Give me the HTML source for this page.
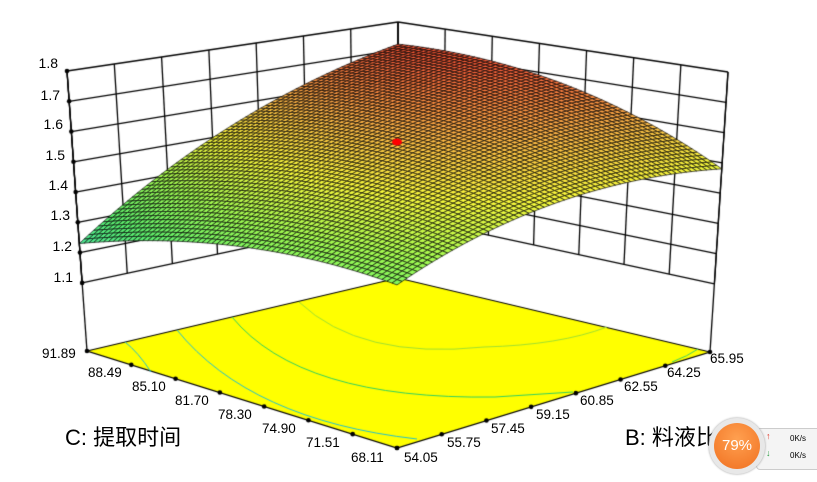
<!DOCTYPE html>
<html><head><meta charset="utf-8"><style>
html,body{margin:0;padding:0;background:#fff;}
#w{position:relative;width:817px;height:482px;overflow:hidden;font-family:"Liberation Sans","Noto Sans CJK SC",sans-serif;}
canvas{position:absolute;left:0;top:0;}
.t{position:absolute;font-size:13.5px;color:#000;white-space:nowrap;line-height:1;}
.z{position:absolute;font-size:14px;color:#000;line-height:1;text-align:right;width:30px;}
.big{position:absolute;font-size:22px;color:#000;white-space:nowrap;line-height:1;}
</style></head><body><div id="w">
<canvas id="c" width="817" height="482"></canvas>
<div class="z" style="left:28px;top:56px">1.8</div>
<div class="z" style="left:30px;top:88px">1.7</div>
<div class="z" style="left:33px;top:117px">1.6</div>
<div class="z" style="left:35px;top:148px">1.5</div>
<div class="z" style="left:38px;top:178px">1.4</div>
<div class="z" style="left:40px;top:208px">1.3</div>
<div class="z" style="left:42px;top:239px">1.2</div>
<div class="z" style="left:43px;top:270px">1.1</div>
<div class="t" style="left:42px;top:347px">91.89</div>
<div class="t" style="left:88px;top:366px">88.49</div>
<div class="t" style="left:132px;top:380px">85.10</div>
<div class="t" style="left:175px;top:394px">81.70</div>
<div class="t" style="left:218px;top:408px">78.30</div>
<div class="t" style="left:262px;top:422px">74.90</div>
<div class="t" style="left:306px;top:436px">71.51</div>
<div class="t" style="left:351px;top:451px">68.11</div>
<div class="t" style="left:404px;top:451px">54.05</div>
<div class="t" style="left:447px;top:436px">55.75</div>
<div class="t" style="left:491px;top:422px">57.45</div>
<div class="t" style="left:536px;top:408px">59.15</div>
<div class="t" style="left:580px;top:394px">60.85</div>
<div class="t" style="left:624px;top:380px">62.55</div>
<div class="t" style="left:667px;top:366px">64.25</div>
<div class="t" style="left:710px;top:352px">65.95</div>
<div class="big" style="left:65px;top:427px">C: 提取时间</div>
<div class="big" style="left:625px;top:427px">B: 料液比</div>
<div style="position:absolute;left:756px;top:428px;width:70px;height:40px;background:#f4f4f4;border:1px solid #ccc;border-radius:4px;"></div>
<div style="position:absolute;left:766px;top:431px;font-size:9px;color:#e03020">&#8593;</div>
<div style="position:absolute;left:766px;top:448px;font-size:9px;color:#2a9a40">&#8595;</div>
<div style="position:absolute;left:790px;top:434px;font-size:8px;color:#000;font-family:'Liberation Sans',sans-serif">0K/s</div>
<div style="position:absolute;left:790px;top:451px;font-size:8px;color:#000;font-family:'Liberation Sans',sans-serif">0K/s</div>
<div style="position:absolute;left:709px;top:418px;width:56px;height:56px;border-radius:50%;background:#e8e8e8;box-shadow:0 0 2px #999;"></div>
<div style="position:absolute;left:714px;top:423px;width:46px;height:46px;border-radius:50%;background:radial-gradient(circle at 50% 35%,#ffa050,#f07020);color:#fff;font-size:15px;line-height:46px;text-align:center;font-family:'Liberation Sans',sans-serif">79%</div>
</div>
<script>
const c=document.getElementById('c').getContext('2d');
const TOP={b:[398,22],l:[67,71],r:[728,72],f:[397,135]};
const FL={b:[398,278],l:[87,351],r:[710,352],f:[397,448]};
const ZF=0.875;
function bil(Q,s,t){const x=Q.b[0]*(1-s)*(1-t)+Q.l[0]*s*(1-t)+Q.r[0]*(1-s)*t+Q.f[0]*s*t;
const y=Q.b[1]*(1-s)*(1-t)+Q.l[1]*s*(1-t)+Q.r[1]*(1-s)*t+Q.f[1]*s*t;return[x,y];}
function P(s,t,z){const a=bil(TOP,s,t),b=bil(FL,s,t),k=(1.8-z)/(1.8-ZF);return[a[0]+(b[0]-a[0])*k,a[1]+(b[1]-a[1])*k];}
function line(p,q,w){c.beginPath();c.moveTo(p[0],p[1]);c.lineTo(q[0],q[1]);c.lineWidth=w||1.3;c.strokeStyle='#000';c.stroke();}
for(let i=0;i<8;i++){const z=1.1+i*0.1;line(P(0,0,z),P(1,0,z));line(P(0,0,z),P(0,1,z));}
for(let k=0;k<=7;k++){line(P(k/7,0,1.1),P(k/7,0,1.8));line(P(0,k/7,1.1),P(0,k/7,1.8));}
line(P(1,0,1.8),P(1,0,ZF));line(P(0,1,1.8),P(0,1,ZF));line(P(0,0,1.8),P(0,0,ZF));
c.beginPath();c.moveTo(...FL.b);c.lineTo(...FL.l);c.lineTo(...FL.f);c.lineTo(...FL.r);c.closePath();
c.fillStyle='#ffff00';c.fill();c.lineWidth=1.2;c.strokeStyle='#000';c.stroke();
function curve(pts,col){c.beginPath();c.moveTo(...pts[0]);c.quadraticCurveTo(...pts[1],...pts[2]);c.strokeStyle=col;c.lineWidth=1;c.stroke();}
curve([[125,342],[138,352],[151,372]],'#20c0d0');
curve([[177,330],[250,420],[417,439]],'#20c0d0');
curve([[232,317],[300,400],[495,397]],'#30d060');
c.beginPath();c.moveTo(495,397);c.lineTo(573,392);c.strokeStyle='#30d060';c.stroke();
curve([[299,302],[360,360],[484,347]],'#a0e030');
curve([[484,347],[560,345],[607,327]],'#a0e030');
curve([[672,362],[688,356],[698,349]],'#40d060');
for(let k=0;k<=7;k++){const a=[FL.l[0]+(FL.f[0]-FL.l[0])*k/7,FL.l[1]+(FL.f[1]-FL.l[1])*k/7];
const b=[FL.f[0]+(FL.r[0]-FL.f[0])*k/7,FL.f[1]+(FL.r[1]-FL.f[1])*k/7];
[a,b].forEach(p=>{c.beginPath();c.arc(p[0],p[1],2.3,0,7);c.fillStyle='#000';c.fill();});}
function Z(s,t){return 1.72*(1-s)*(1-t)+1.23*s*(1-t)+1.48*(1-s)*t+1.357*s*t
+4*s*(1-s)*(0.06*(1-t)+0.075*t)+4*t*(1-t)*(0.075*(1-s)+0.06*s);}
const stops=[[1.2,[70,230,170]],[1.3,[90,240,110]],[1.4,[160,250,80]],[1.5,[250,250,60]],[1.6,[255,180,70]],[1.7,[255,100,60]],[1.8,[235,40,30]]];
function col(z){if(z<=stops[0][0])return stops[0][1];for(let i=1;i<stops.length;i++){if(z<=stops[i][0]){const a=stops[i-1],b=stops[i],k=(z-a[0])/(b[0]-a[0]);return a[1].map((v,j)=>Math.round(v+(b[1][j]-v)*k));}}return stops[stops.length-1][1];}
const N=64;const cells=[];
for(let i=0;i<N;i++)for(let j=0;j<N;j++)cells.push([i,j]);
cells.sort((a,b)=>(a[0]+a[1])-(b[0]+b[1]));
for(const [i,j] of cells){const s0=i/N,s1=(i+1)/N,t0=j/N,t1=(j+1)/N;
const p=[P(s0,t0,Z(s0,t0)),P(s1,t0,Z(s1,t0)),P(s1,t1,Z(s1,t1)),P(s0,t1,Z(s0,t1))];
const zc=Z((s0+s1)/2,(t0+t1)/2);const cc=col(zc);
c.beginPath();c.moveTo(...p[0]);for(let k=1;k<4;k++)c.lineTo(...p[k]);c.closePath();
c.fillStyle='rgb('+cc+')';c.fill();c.lineWidth=0.8;c.strokeStyle='rgba(0,0,0,0.85)';c.stroke();}
line(P(1,0,1.8),P(1,0,1.1));
for(let i=0;i<8;i++){const p=P(1,0,1.1+i*0.1);c.beginPath();c.arc(p[0],p[1],2.3,0,7);c.fillStyle='#000';c.fill();}
c.beginPath();c.ellipse(397,142,5,3.5,0,0,7);c.fillStyle='#ff0000';c.fill();
</script></body></html>
